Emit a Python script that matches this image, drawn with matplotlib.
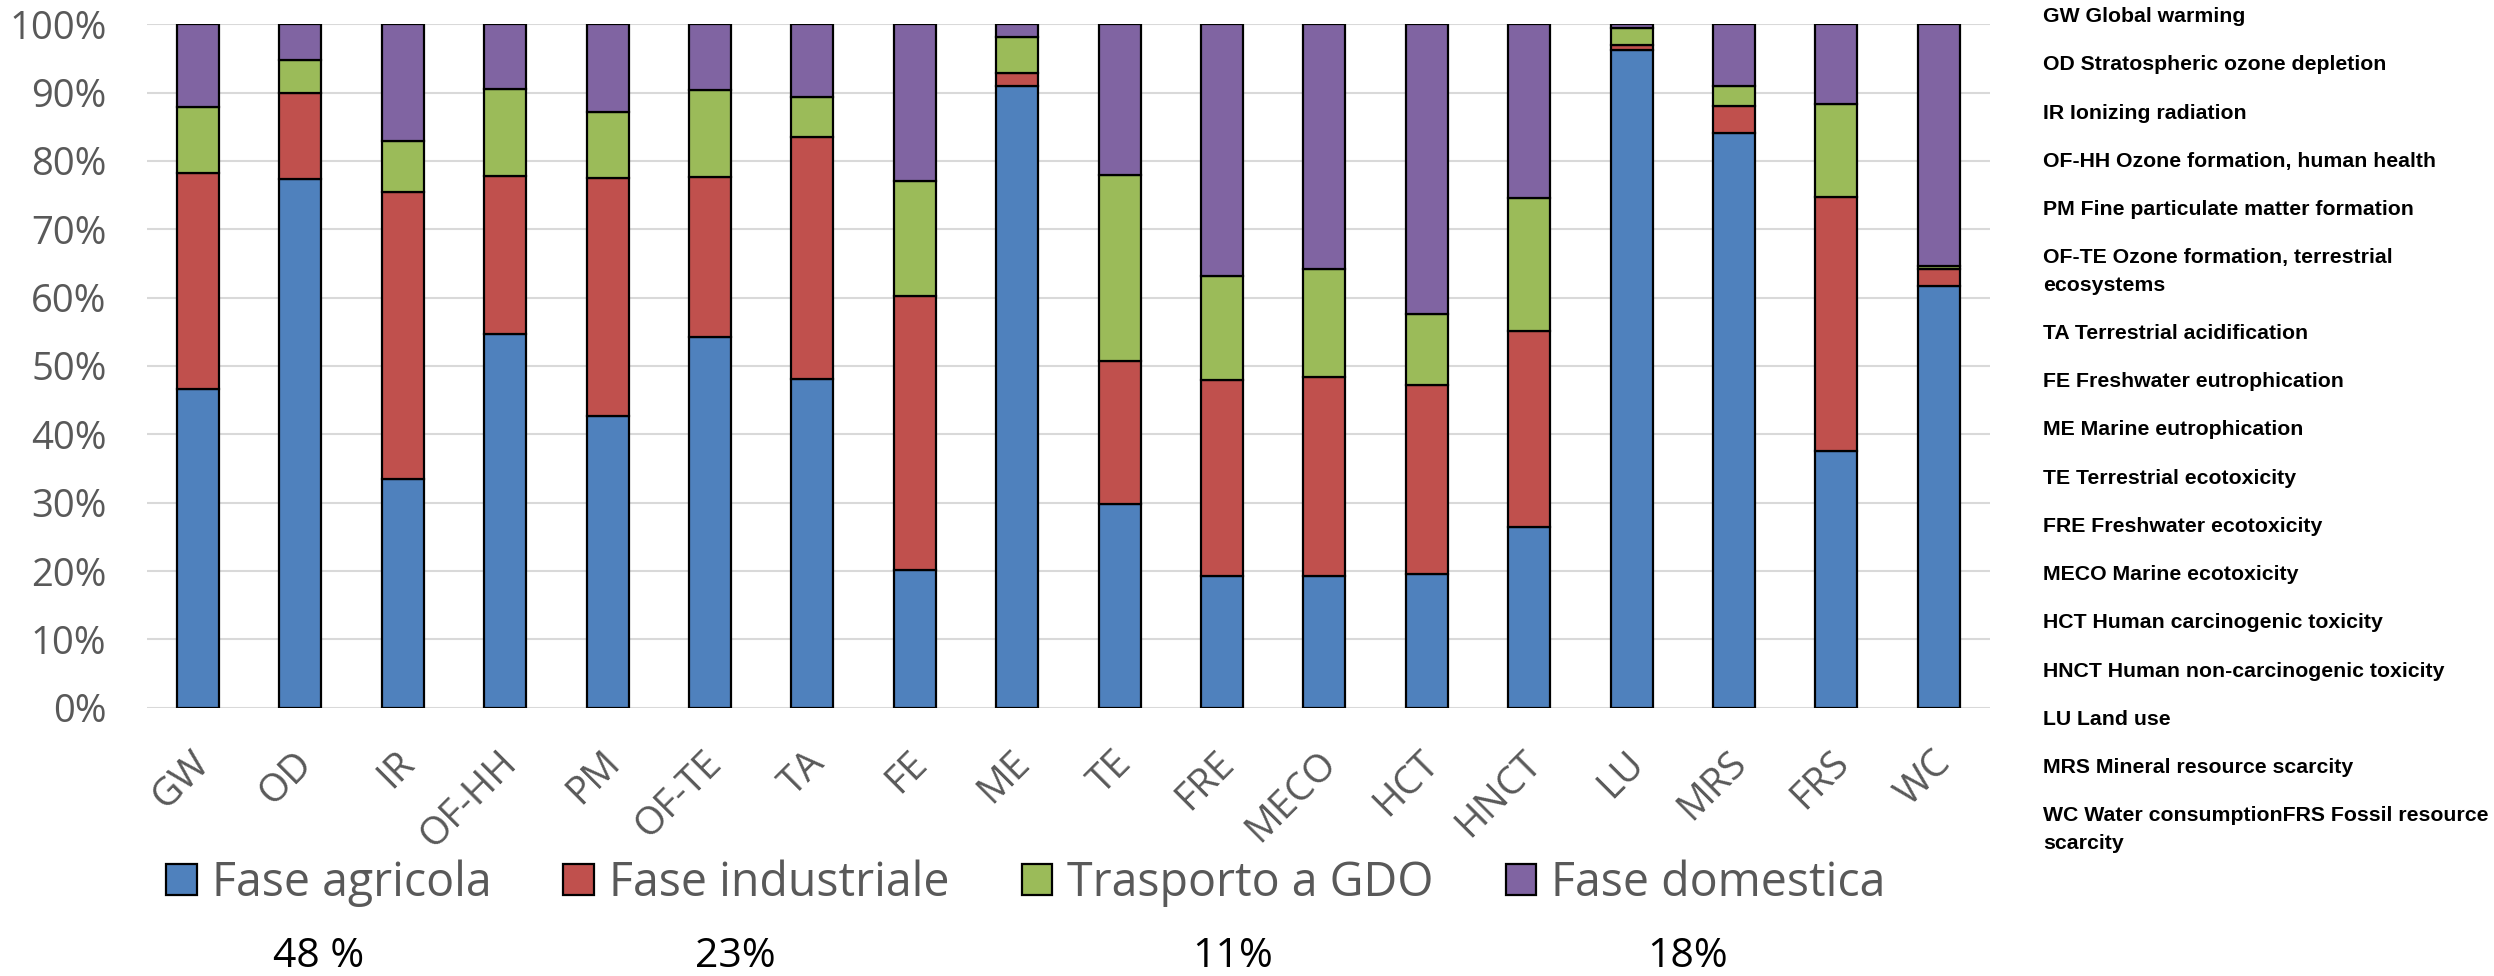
import matplotlib.pyplot as plt
import numpy as np
from matplotlib.transforms import ScaledTranslation

# categorie di impatto (ReCiPe midpoint)
categorie = ['GW', 'OD', 'IR', 'OF-HH', 'PM', 'OF-TE', 'TA', 'FE', 'ME',
             'TE', 'FRE', 'MECO', 'HCT', 'HNCT', 'LU', 'MRS', 'FRS', 'WC']

# contributo percentuale di ogni fase
fase_agricola = [46.6, 77.4, 33.5, 54.7, 42.7, 54.2, 48.1, 20.2, 90.9,
                 29.8, 19.2, 19.2, 19.6, 26.5, 96.2, 84.1, 37.6, 61.7]
fase_industriale = [31.7, 12.5, 42.0, 23.1, 34.8, 23.4, 35.4, 40.1, 2.0,
                    21.0, 28.8, 29.2, 27.6, 28.6, 0.8, 4.0, 37.2, 2.5]
trasporto_gdo = [9.6, 4.9, 7.4, 12.7, 9.6, 12.8, 5.9, 16.8, 5.2,
                 27.2, 15.2, 15.8, 10.4, 19.5, 2.5, 2.8, 13.5, 0.4]
fase_domestica = [12.1, 5.2, 17.1, 9.5, 12.9, 9.6, 10.6, 22.9, 1.9,
                  22.0, 36.8, 35.8, 42.4, 25.4, 0.5, 9.1, 11.7, 35.4]

nomi_fasi = ['Fase agricola', 'Fase industriale', 'Trasporto a GDO', 'Fase domestica']
cores = ['#4F81BD', '#C0504D', '#9BBB59', '#8064A2']

# quota media di ogni fase (riga sotto la legenda)
quote = ['48 %', '23%', '11%', '18%']

descrizioni = ['GW Global warming',
               'OD Stratospheric ozone depletion',
               'IR Ionizing radiation',
               'OF-HH Ozone formation, human health',
               'PM Fine particulate matter formation',
               'OF-TE Ozone formation, terrestrial\necosystems',
               'TA Terrestrial acidification',
               'FE Freshwater eutrophication',
               'ME Marine eutrophication',
               'TE Terrestrial ecotoxicity',
               'FRE Freshwater ecotoxicity',
               'MECO Marine ecotoxicity',
               'HCT Human carcinogenic toxicity',
               'HNCT Human non-carcinogenic toxicity',
               'LU Land use',
               'MRS Mineral resource scarcity',
               'WC Water consumptionFRS Fossil resource\nscarcity']

W, H = 2494, 976
fig = plt.figure(figsize=(W / 100, H / 100), dpi=100)
ax = fig.add_axes([146.7 / W, 1 - 707.7 / H, (1990 - 146.7) / W, (707.7 - 24.3) / H])

x = np.arange(len(categorie))
serie = [fase_agricola, fase_industriale, trasporto_gdo, fase_domestica]
base = np.zeros(len(categorie))
for i in range(len(serie)):
    ax.bar(x, serie[i], 0.41, bottom=base, color=cores[i], edgecolor='black',
           linewidth=1.6, label=nomi_fasi[i], zorder=3)
    base = base + np.array(serie[i])

ax.set_xlim(-0.5, len(categorie) - 0.5)
ax.set_ylim(0, 100)
ax.set_yticks(np.arange(0, 101, 10))
ax.set_yticklabels([f'{v}%' for v in range(0, 101, 10)])
ax.set_xticks(x)
ax.set_xticklabels(categorie, rotation=45, ha='right', va='top', rotation_mode='anchor')
ax.tick_params(axis='y', length=0, pad=29, labelsize=27.5, labelcolor='#595959')
ax.tick_params(axis='x', length=0, pad=26, labelsize=28, labelcolor='#595959')
for lab in ax.get_xticklabels() + ax.get_yticklabels():
    lab.set_family('Open Sans')
# piccolo spostamento a sinistra delle etichette ruotate
sposta = ScaledTranslation(-0.07, 0, fig.dpi_scale_trans)
for lab in ax.get_xticklabels():
    lab.set_transform(lab.get_transform() + sposta)
for s in ax.spines.values():
    s.set_visible(False)
ax.grid(axis='y', color='#d9d9d9', linewidth=1.5, zorder=0)
ax.set_axisbelow(True)

leg = fig.legend(loc='center left', bbox_to_anchor=(166 / W, 1 - 883 / H), ncol=4,
                 frameon=False, borderpad=0, borderaxespad=0,
                 handlelength=0.66, handleheight=0.66, handletextpad=0.32,
                 columnspacing=1.55, prop={'family': 'Open Sans', 'size': 33.5})
for t in leg.get_texts():
    t.set_color('#595959')

# percentuali sotto la legenda
pos_quote = [319, 735, 1233, 1688]
for i in range(len(quote)):
    fig.text(pos_quote[i] / W, 1 - 966.7 / H, quote[i], ha='center', va='baseline',
             fontsize=29.5, family='Open Sans', color='black')

# elenco delle categorie a destra
y = 14.6
for d in descrizioni:
    righe = d.split('\n')
    for k in range(len(righe)):
        fig.text(2043 / W, 1 - (y + 7.6) / H, righe[k], ha='left', va='baseline',
                 fontsize=15.3, family='Liberation Sans', fontweight='bold', color='black')
        if k < len(righe) - 1:
            y += 27.3
    y += 48.24

fig.savefig('out.png', dpi=100)
